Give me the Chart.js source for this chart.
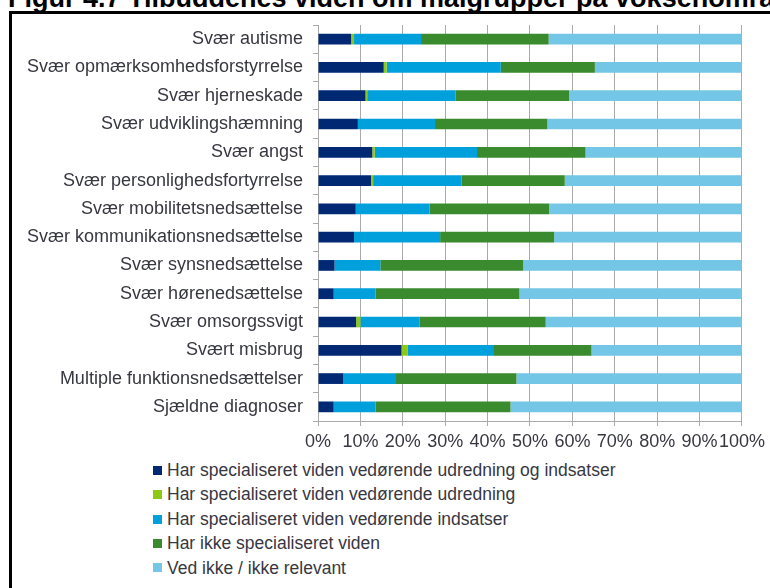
<!DOCTYPE html>
<html>
<head>
<meta charset="utf-8">
<script src="https://cdn.jsdelivr.net/npm/chart.js@4/dist/chart.umd.min.js"></script>
<style>
body{margin:0;width:770px;height:588px;overflow:hidden;background:#fff;position:relative;font-family:"Liberation Sans",Arial,sans-serif}
#titel{position:absolute;left:8px;top:-15px;font-weight:bold;font-size:27px;line-height:27px;white-space:nowrap;color:#000}
#ramme{position:absolute;left:9px;top:11px;width:900px;height:700px;border:3px solid #000}
#boks{position:absolute;left:0;top:0;width:770px;height:455px}
#legende{position:absolute;left:153px;top:458px;color:rgb(55,55,65);font-size:17.5px}
#legende div{height:24.4px;line-height:24.4px;white-space:nowrap}
#legende span{display:inline-block;width:9px;height:9px;margin-right:5px;vertical-align:middle;position:relative;top:-1px}
</style>
</head>
<body>
<div id="titel">Figur 4.7 Tilbuddenes viden om målgrupper på voksenområdet</div>
<div id="ramme"></div>
<div id="boks"><canvas id="diagram"></canvas></div>
<div id="legende"></div>
<script>
// Data (procent)
const kategorier = [
    "Svær autisme",
    "Svær opmærksomhedsforstyrrelse",
    "Svær hjerneskade",
    "Svær udviklingshæmning",
    "Svær angst",
    "Svær personlighedsfortyrrelse",
    "Svær mobilitetsnedsættelse",
    "Svær kommunikationsnedsættelse",
    "Svær synsnedsættelse",
    "Svær hørenedsættelse",
    "Svær omsorgssvigt",
    "Svært misbrug",
    "Multiple funktionsnedsættelser",
    "Sjældne diagnoser"
];
const udredningOgIndsats = [7.8, 15.5, 11.2, 9.4, 12.8, 12.5, 8.9, 8.5, 3.9, 3.7, 9.0, 19.7, 6.0, 3.7];
const kunUdredning       = [0.7, 0.7, 0.4, 0, 0.6, 0.5, 0, 0, 0, 0, 1.0, 1.5, 0, 0];
const kunIndsats         = [15.8, 26.9, 20.8, 18.2, 24.1, 20.9, 17.4, 20.3, 10.8, 9.9, 13.9, 20.1, 12.4, 9.9];
const ikkeViden          = [30.1, 22.2, 26.8, 26.5, 25.6, 24.3, 28.2, 26.9, 33.7, 33.9, 29.8, 23.2, 28.4, 31.8];
const vedIkke            = [45.6, 34.7, 40.8, 45.9, 36.9, 41.8, 45.5, 44.3, 51.6, 52.5, 46.3, 35.5, 53.2, 54.6];
const serienavne = [
    "Har specialiseret viden vedørende udredning og indsatser",
    "Har specialiseret viden vedørende udredning",
    "Har specialiseret viden vedørende indsatser",
    "Har ikke specialiseret viden",
    "Ved ikke / ikke relevant"
];
const xTicks = [0, 10, 20, 30, 40, 50, 60, 70, 80, 90, 100];

const farver = ["rgb(0,40,115)", "rgb(140,200,20)", "rgb(0,160,220)", "rgb(58,138,46)", "rgb(115,198,230)"];
const tekstfarve = "rgb(55,55,65)";
const gitterfarve = "rgb(170,170,170)";
const skrift = { family: "'Liberation Sans', Arial, sans-serif", size: 18 };

const serier = [udredningOgIndsats, kunUdredning, kunIndsats, ikkeViden, vedIkke];

const ctx = document.getElementById("diagram").getContext("2d");
const diagram = new Chart(ctx, {
    type: "bar",
    data: {
        labels: kategorier,
        datasets: serier.map((d, i) => ({
            label: serienavne[i],
            data: d,
            backgroundColor: farver[i],
            borderWidth: 0,
            barPercentage: 0.38,
            categoryPercentage: 1
        }))
    },
    options: {
        indexAxis: "y",
        responsive: true,
        maintainAspectRatio: false,
        animation: false,
        layout: { padding: { top: 25, right: 27, left: 0, bottom: 0 } },
        plugins: {
            legend: { display: false },
            tooltip: { enabled: false }
        },
        scales: {
            x: {
                stacked: true,
                min: 0,
                max: 100,
                afterBuildTicks: (s) => { s.ticks = xTicks.map(v => ({ value: v })); },
                afterFit: (s) => { s.height = 34; },
                grid: { color: gitterfarve, tickLength: 5 },
                border: { color: gitterfarve },
                ticks: {
                    color: tekstfarve,
                    font: skrift,
                    padding: 5,
                    maxRotation: 0,
                    autoSkip: false,
                    callback: (v) => v + "%"
                }
            },
            y: {
                stacked: true,
                afterFit: (s) => { s.width = 318; },
                grid: { drawOnChartArea: false, color: gitterfarve, tickLength: 5 },
                border: { color: gitterfarve },
                ticks: { color: tekstfarve, font: skrift, padding: 10, autoSkip: false }
            }
        }
    }
});

// Legende som HTML, en serie pr. linje
const legende = document.getElementById("legende");
diagram.data.datasets.forEach(ds => {
    const linje = document.createElement("div");
    const firkant = document.createElement("span");
    firkant.style.background = ds.backgroundColor;
    linje.appendChild(firkant);
    linje.appendChild(document.createTextNode(ds.label));
    legende.appendChild(linje);
});
</script>
</body>
</html>
